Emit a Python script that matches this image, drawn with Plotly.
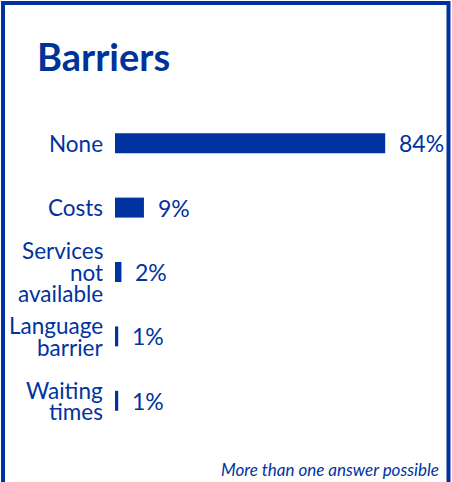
import plotly.graph_objects as go

# Survey data
categories = ["None", "Costs", "Services\nnot\navailable", "Language\nbarrier", "Waiting\ntimes"]
values = [84, 9, 2, 1, 1]
value_labels = [f"{v}%" for v in values]

title_text = "Barriers"
footnote = "More than one answer possible"

BLUE = "#0033a0"
FONT = "Lato, 'Open Sans', sans-serif"

W, H = 452, 482
ML, MR, MT, MB = 115, 25, 111, 49
PW, PH = W - ML - MR, H - MT - MB


def px_x(p):
    return (p - ML) / PW


def px_y(p):
    return (H - MB - p) / PH


fig = go.Figure(
    go.Bar(
        x=values,
        y=list(range(len(categories))),
        orientation="h",
        marker=dict(color=BLUE, line=dict(width=0)),
        width=0.31,
        hoverinfo="skip",
    )
)

annotations = []
line_h = 21.5
for i, (cat, val, lab) in enumerate(zip(categories, values, value_labels)):
    lines = cat.split("\n")
    n = len(lines)
    for j, ln in enumerate(lines):
        annotations.append(dict(
            x=0, y=i, xref="x", yref="y", text=ln, showarrow=False,
            xanchor="right", yanchor="middle", xshift=-10,
            yshift=((n - 1) / 2 - j) * line_h,
            font=dict(family=FONT, size=22.5, color=BLUE),
        ))
    annotations.append(dict(
        x=val, y=i, xref="x", yref="y", text=lab, showarrow=False,
        xanchor="left", yanchor="middle", xshift=12,
        font=dict(family=FONT, size=23, color=BLUE),
    ))

annotations.append(dict(
    x=px_x(441), y=px_y(469), xref="paper", yref="paper", text=f"<i>{footnote}</i>",
    showarrow=False, xanchor="right", yanchor="middle",
    font=dict(family=FONT, size=17, color=BLUE),
))

fig.update_layout(
    width=W, height=H,
    margin=dict(l=ML, r=MR, t=MT, b=MB),
    paper_bgcolor="white", plot_bgcolor="white",
    showlegend=False,
    title=dict(
        text=f"<b>{title_text}</b>", x=37 / W, xanchor="left", xref="container",
        y=1 - 58 / H, yanchor="middle", yref="container",
        font=dict(family=FONT, size=38, color="#003399"),
    ),
    xaxis=dict(range=[0, 97], visible=False, fixedrange=True),
    yaxis=dict(range=[len(categories) - 0.5, -0.5], visible=False, fixedrange=True),
    annotations=annotations,
    shapes=[dict(
        type="rect", xref="paper", yref="paper",
        x0=px_x(3), x1=px_x(448.5), y0=px_y(486), y1=px_y(3),
        line=dict(color=BLUE, width=4), fillcolor="rgba(0,0,0,0)", layer="above",
    )],
)

fig.write_html("out.html")
